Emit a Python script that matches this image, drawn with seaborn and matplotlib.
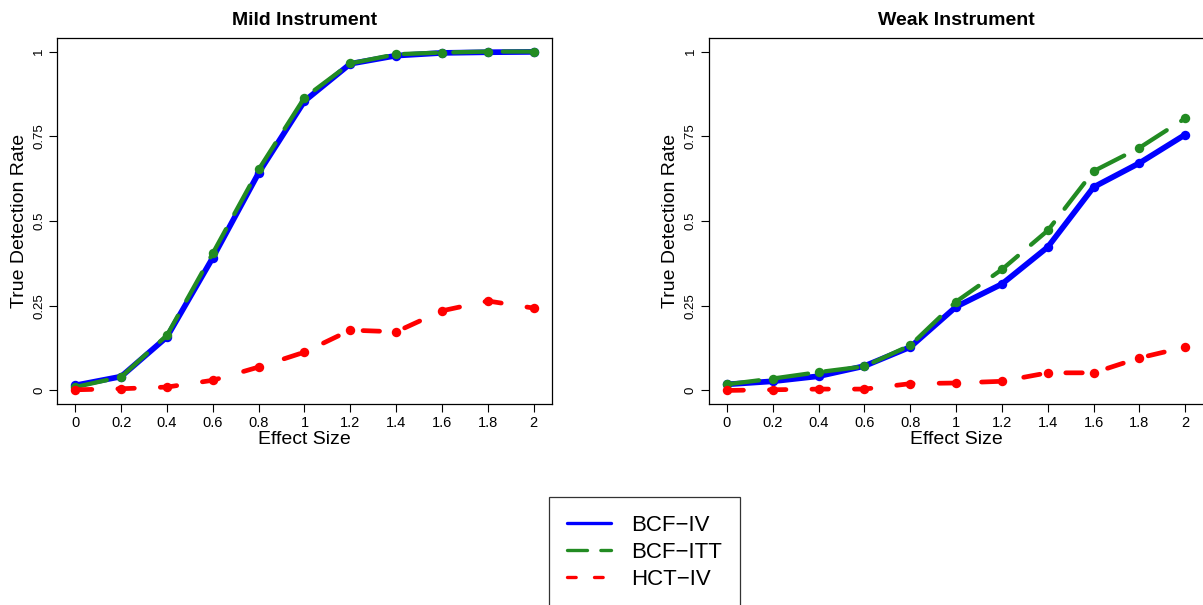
import numpy as np
import pandas as pd
import matplotlib
matplotlib.use("Agg")
import matplotlib.pyplot as plt
from matplotlib.lines import Line2D
import seaborn as sns

effect_size = [0, 0.2, 0.4, 0.6, 0.8, 1.0, 1.2, 1.4, 1.6, 1.8, 2.0]
x_tick_labels = ["0", "0.2", "0.4", "0.6", "0.8", "1", "1.2", "1.4", "1.6", "1.8", "2"]
y_ticks = [0, 0.25, 0.5, 0.75, 1]
y_tick_labels = ["0", "0.25", "0.5", "0.75", "1"]

mild_bcf_iv = [0.015, 0.041, 0.158, 0.392, 0.642, 0.854, 0.964, 0.988, 0.996, 0.998, 0.999]
mild_bcf_itt = [0.010, 0.040, 0.163, 0.405, 0.652, 0.864, 0.965, 0.992, 0.997, 1.000, 1.000]
mild_hct_iv = [0.002, 0.005, 0.010, 0.030, 0.069, 0.113, 0.178, 0.173, 0.235, 0.264, 0.243]

weak_bcf_iv = [0.018, 0.027, 0.042, 0.072, 0.128, 0.247, 0.314, 0.423, 0.600, 0.671, 0.755]
weak_bcf_itt = [0.018, 0.035, 0.054, 0.071, 0.133, 0.262, 0.357, 0.472, 0.647, 0.716, 0.803]
weak_hct_iv = [0.000, 0.002, 0.004, 0.004, 0.020, 0.022, 0.027, 0.052, 0.052, 0.096, 0.128]

methods = ["BCF\u2212IV", "BCF\u2212ITT", "HCT\u2212IV"]
panels = {
    "Mild Instrument": [mild_bcf_iv, mild_bcf_itt, mild_hct_iv],
    "Weak Instrument": [weak_bcf_iv, weak_bcf_itt, weak_hct_iv],
}

colors = ["#0000FF", "#228B22", "#FF0000"]
styles = ["-", (0, (7.5, 4.0)), (0, (3.5, 5.5))]
widths = [4.1, 3.1, 3.4]
legend_styles = ["-", (0, (6.0, 4.0)), (0, (2.6, 5.5))]

sns.set_theme(style="white")
plt.rcParams["font.family"] = ["Liberation Sans", "DejaVu Sans"]
plt.rcParams["axes.unicode_minus"] = True
for key in ["text.color", "axes.labelcolor", "xtick.color", "ytick.color"]:
    plt.rcParams[key] = "black"

W, H = 1203, 605
fig = plt.figure(figsize=(W / 100, H / 100), dpi=100)

positions = [
    (57 / W, 201 / H, 495 / W, 366 / H),
    (708.6 / W, 201 / H, 495 / W, 366 / H),
]

for (title, series), pos in zip(panels.items(), positions):
    ax = fig.add_axes(pos)
    for vals, m, c, ls, lw in zip(series, methods, colors, styles, widths):
        df = pd.DataFrame({"x": effect_size, "y": vals})
        sns.lineplot(data=df, x="x", y="y", ax=ax, color=c, linewidth=lw,
                     linestyle=ls, marker="o", markersize=6.8,
                     markeredgewidth=0, markerfacecolor=c, legend=False,
                     dash_capstyle="round", solid_capstyle="round",
                     solid_joinstyle="round", dash_joinstyle="round")
    ax.set_xlim(-0.08, 2.08)
    ax.set_ylim(-0.04, 1.04)
    ax.set_xticks(effect_size)
    ax.set_xticklabels(x_tick_labels, fontsize=10.5)
    ax.set_yticks(y_ticks)
    ax.set_yticklabels(y_tick_labels, fontsize=9.5, rotation=90, va="center")
    ax.tick_params(axis="both", direction="out", length=6, width=0.8,
                   color="black", labelcolor="black", bottom=True, left=True, pad=2.5)
    for s in ax.spines.values():
        s.set_color("black")
        s.set_linewidth(0.9)
    ax.set_xlabel("Effect Size", fontsize=14, labelpad=1, color="black")
    ax.set_ylabel("True Detection Rate", fontsize=14, labelpad=4, color="black")
    ax.set_title(title, fontsize=14, fontweight="bold", pad=9, color="black")

handles = [Line2D([0], [0], color=c, linewidth=2.4, linestyle=ls,
                  dash_capstyle="round", solid_capstyle="round")
           for c, ls in zip(colors, legend_styles)]
leg = fig.legend(handles, methods, loc="upper left",
                 bbox_to_anchor=(549 / W, 1 - 497 / H), fontsize=16,
                 frameon=True, fancybox=False, handlelength=2.0,
                 handletextpad=0.9, labelspacing=0.28, borderpad=0.8,
                 borderaxespad=0)
leg.get_frame().set_edgecolor("black")
leg.get_frame().set_linewidth(0.9)
for t in leg.get_texts():
    t.set_color("black")

fig.savefig("out.png", dpi=100)
